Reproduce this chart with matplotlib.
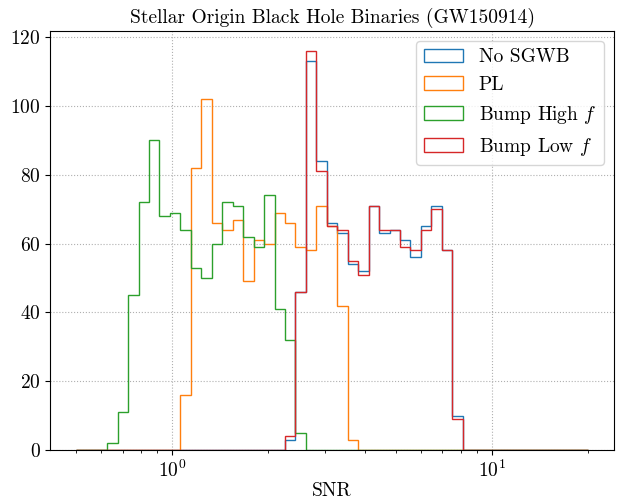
import numpy as np
import matplotlib
matplotlib.use("Agg")
import matplotlib.pyplot as plt

plt.rcParams['font.family'] = 'cmr10'
plt.rcParams['mathtext.fontset'] = 'cm'
plt.rcParams['axes.formatter.use_mathtext'] = True
plt.rcParams['axes.unicode_minus'] = False

# 50 log-spaced SNR bin edges between 0.5 and 20 (49 bins)
snr_min, snr_max, n_edges = 0.5, 20.0, 50

labels = ["No SGWB", "PL", r"Bump High $f$", r"Bump Low $f$"]

no_sgwb = [0, 0, 0, 0, 0, 0, 0, 0, 0, 0,
           0, 0, 0, 0, 0, 0, 0, 0, 0, 0,
           3, 46, 113, 84, 66, 63, 54, 52, 71, 63,
           64, 61, 56, 65, 71, 58, 10, 0, 0, 0,
           0, 0, 0, 0, 0, 0, 0, 0, 0]
pl = [0, 0, 0, 0, 0, 0, 0, 0, 0, 0,
      16, 82, 102, 66, 64, 67, 49, 61, 60, 69,
      66, 59, 58, 71, 65, 42, 3, 0, 0, 0,
      0, 0, 0, 0, 0, 0, 0, 0, 0, 0,
      0, 0, 0, 0, 0, 0, 0, 0, 0]
bump_high = [0, 0, 0, 2, 11, 45, 72, 90, 68, 69,
             64, 53, 50, 60, 72, 71, 62, 59, 74, 41,
             32, 5, 0, 0, 0, 0, 0, 0, 0, 0,
             0, 0, 0, 0, 0, 0, 0, 0, 0, 0,
             0, 0, 0, 0, 0, 0, 0, 0, 0]
bump_low = [0, 0, 0, 0, 0, 0, 0, 0, 0, 0,
            0, 0, 0, 0, 0, 0, 0, 0, 0, 0,
            4, 46, 116, 81, 65, 64, 55, 51, 71, 64,
            64, 59, 58, 64, 70, 58, 9, 0, 0, 0,
            0, 0, 0, 0, 0, 0, 0, 0, 0]

bins = np.logspace(np.log10(snr_min), np.log10(snr_max), n_edges)
centers = np.sqrt(bins[:-1] * bins[1:])

fig, ax = plt.subplots(figsize=(6.2, 5.0), dpi=100)
for counts, label in zip([no_sgwb, pl, bump_high, bump_low], labels):
    ax.hist(centers, bins=bins, weights=counts, histtype='step', label=label)

ax.set_xscale('log')
ax.set_title("Stellar Origin Black Hole Binaries (GW150914)", fontsize=14)
ax.set_xlabel("SNR", fontsize=14, labelpad=1)
ax.tick_params(labelsize=14)
ax.grid(linestyle=':')
ax.legend(loc='upper right', fontsize=14)

fig.subplots_adjust(left=0.081, right=0.99, top=0.938, bottom=0.1)
fig.savefig("out.png")
